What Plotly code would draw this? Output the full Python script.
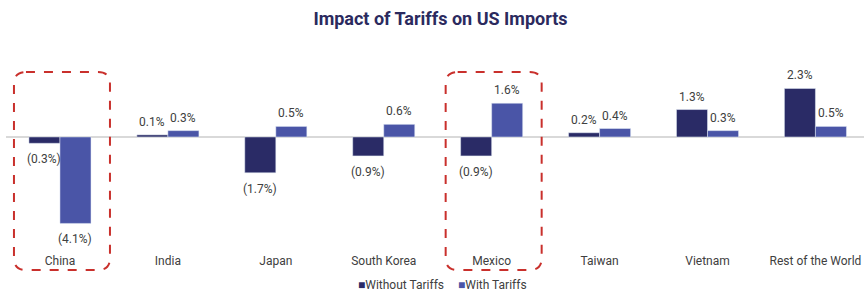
import plotly.graph_objects as go

categories = ["China", "India", "Japan", "South Korea", "Mexico", "Taiwan", "Vietnam", "Rest of the World"]
without_tariffs = [-0.3, 0.1, -1.7, -0.9, -0.9, 0.2, 1.3, 2.3]
with_tariffs = [-4.1, 0.3, 0.5, 0.6, 1.6, 0.4, 0.3, 0.5]
series_names = ["Without Tariffs", "With Tariffs"]
series_colors = ["#2a2b66", "#4a55a7"]
highlighted = ["China", "Mexico"]

W, H = 864, 293
L, R, T, B = 6, 0, 60, 43
PW, PH = W - L - R, H - T - B
XR = [-0.5, 7.45]
BARGAP = 0.425
LABEL_COLOR = "#404040"


def fmt(v):
    return f"({abs(v):.1f}%)" if v < 0 else f"{v:.1f}%"


def px_x(x):
    return (x - L) / PW


def px_y(y):
    return (H - B - y) / PH


xs = list(range(len(categories)))
fig = go.Figure()
for name, vals, col in zip(series_names, [without_tariffs, with_tariffs], series_colors):
    fig.add_bar(x=xs, y=vals, name=name, marker_color=col, showlegend=False)

# value labels (offset per bar in the group)
bw = (1 - BARGAP) / 2
annotations = []
for k, vals in enumerate([without_tariffs, with_tariffs]):
    off = (k - 0.5) * bw
    for i, v in enumerate(vals):
        annotations.append(dict(
            x=i + off, y=v, xref="x", yref="y", text=fmt(v), showarrow=False,
            yshift=13 if v >= 0 else -16, xanchor="center", yanchor="middle",
            font=dict(size=12, color=LABEL_COLOR)))

# legend drawn as text with coloured squares
legend_x = [356, 456]
for name, col, lx in zip(series_names, series_colors, legend_x):
    annotations.append(dict(
        x=px_x(lx), y=px_y(285), xref="paper", yref="paper", showarrow=False,
        xanchor="left", yanchor="middle",
        text=f"<span style='color:{col}'>■</span>{name}",
        font=dict(size=12, color=LABEL_COLOR)))


def rounded_box(cx_idx, x_half, y_top_px, y_bot_px, r=12, dx=2):
    cx = L + (cx_idx - XR[0]) / (XR[1] - XR[0]) * PW + dx
    x0, x1 = px_x(cx - x_half), px_x(cx + x_half)
    rx, ry = r / PW, r / PH
    y0, y1 = px_y(y_bot_px), px_y(y_top_px)
    path = (f"M {x0+rx},{y1} L {x1-rx},{y1} Q {x1},{y1} {x1},{y1-ry} "
            f"L {x1},{y0+ry} Q {x1},{y0} {x1-rx},{y0} L {x0+rx},{y0} "
            f"Q {x0},{y0} {x0},{y0+ry} L {x0},{y1-ry} Q {x0},{y1} {x0+rx},{y1} Z")
    return dict(type="path", path=path, xref="paper", yref="paper",
                line=dict(color="#c9302c", width=2, dash="dash"))


shapes = [rounded_box(categories.index(c), 48, 72, 270) for c in highlighted]

fig.update_layout(
    width=W, height=H,
    margin=dict(l=L, r=R, t=T, b=B),
    paper_bgcolor="white", plot_bgcolor="white",
    barmode="group", bargap=BARGAP, bargroupgap=0,
    font=dict(family="Roboto, Noto Sans, sans-serif", size=12, color=LABEL_COLOR),
    title=dict(text="<b>Impact of Tariffs on US Imports</b>", x=440.5 / W, xanchor="center",
               y=1 - 19 / H, yanchor="middle", yref="container",
               font=dict(size=18, color="#2b2a5e", family="Roboto, sans-serif")),
    xaxis=dict(tickmode="array", tickvals=xs, ticktext=categories, range=XR,
               showgrid=False, showline=False, ticks="", zeroline=False,
               tickfont=dict(size=12, color=LABEL_COLOR), automargin=False,
               ticklabelstandoff=2),
    yaxis=dict(range=[-5.36, 3.65], showgrid=False, showticklabels=False,
               zeroline=True, zerolinecolor="#d9d9d9", zerolinewidth=1.5, ticks=""),
    shapes=shapes,
    annotations=annotations,
    showlegend=False,
)

fig.write_html("out.html", config={"displayModeBar": False},
               post_script="document.body.style.margin='0px';")
